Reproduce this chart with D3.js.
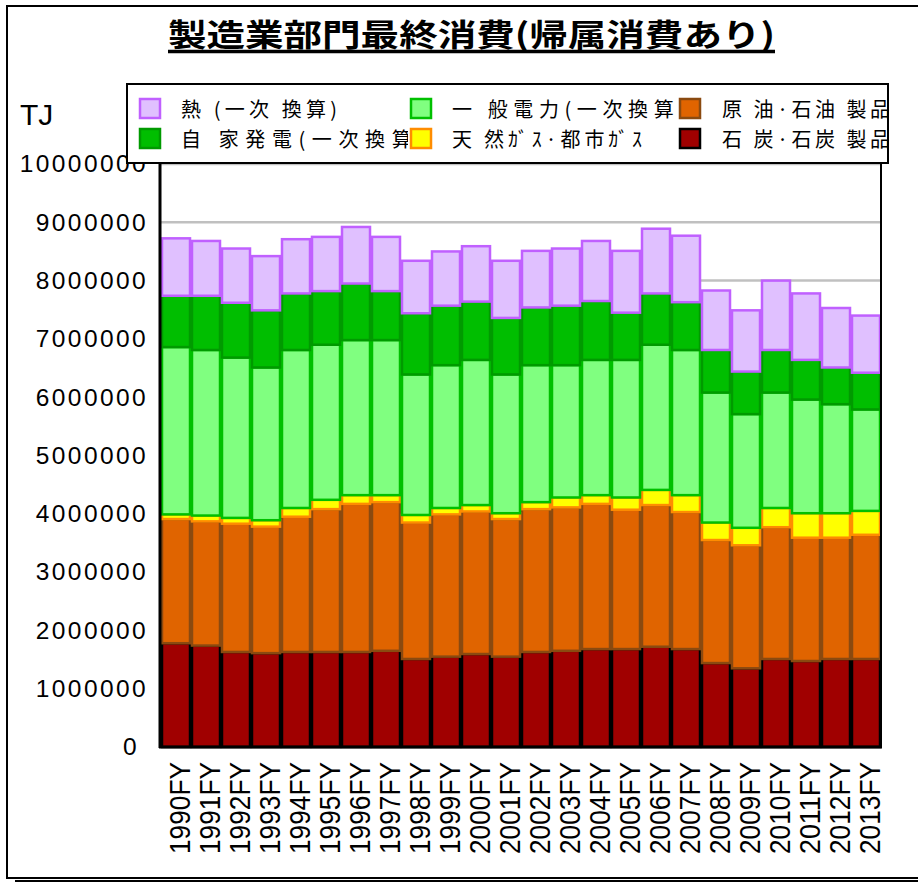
<!DOCTYPE html>
<html>
<head>
<meta charset="utf-8">
<script src="https://d3js.org/d3.v7.min.js"></script>
<style>
  body { margin: 0; background: #fff; }
  svg { display: block; }
</style>
</head>
<body>
<script>
    // 製造業部門最終消費 (TJ)
    var years = ["1990FY","1991FY","1992FY","1993FY","1994FY","1995FY","1996FY","1997FY",
                 "1998FY","1999FY","2000FY","2001FY","2002FY","2003FY","2004FY","2005FY",
                 "2006FY","2007FY","2008FY","2009FY","2010FY","2011FY","2012FY","2013FY"];

    var coal = [1780000,1740000,1630000,1610000,1630000,1630000,1630000,1650000,
                1510000,1550000,1595000,1550000,1630000,1650000,1680000,1680000,
                1720000,1680000,1440000,1350000,1510000,1475000,1510000,1510000];
    var oil  = [2130000,2130000,2200000,2170000,2320000,2450000,2540000,2550000,
                2340000,2440000,2445000,2360000,2450000,2460000,2490000,2390000,
                2430000,2350000,2110000,2110000,2260000,2115000,2080000,2130000];
    var gas  = [80000,100000,100000,110000,150000,160000,150000,120000,
                130000,110000,110000,100000,120000,170000,150000,210000,
                260000,290000,300000,300000,330000,420000,420000,410000];
    var elec = [2870000,2840000,2750000,2620000,2710000,2660000,2660000,2660000,
                2410000,2450000,2490000,2380000,2350000,2270000,2320000,2360000,
                2490000,2490000,2230000,1950000,1980000,1950000,1870000,1740000];
    var selfGen = [880000,930000,940000,980000,970000,920000,970000,840000,
                   1050000,1020000,1000000,970000,990000,1020000,1010000,810000,
                   880000,820000,730000,730000,730000,680000,630000,630000];
    var heat = [985000,940000,930000,930000,930000,930000,970000,930000,
                900000,930000,950000,980000,970000,980000,1030000,1060000,
                1110000,1140000,1020000,1050000,1190000,1140000,1020000,980000];

    var seriesKeys = ["coal","oil","gas","elec","selfGen","heat"];
    var seriesNames = ["石 炭·石炭 製品","原 油·石油 製品","天 然ｶﾞｽ·都市ｶﾞｽ",
                       "一 般電力(一次換算)","自 家発電(一次換算)","熱 (一次 換算)"];
    var fills   = ["#A00000","#E06400","#FFFF00","#80FF80","#00BE00","#E0C0FF"];
    var strokes = ["#000000","#8A4A10","#FF8C00","#00C000","#009A00","#C060FF"];

    var width = 918;
    var height = 883;

    var svg = d3.select("body")
    .append("svg")
    .attr("width", width)
    .attr("height", height);

    // outer frame + shadow line
    svg.append("rect")
    .attr("x", 7).attr("y", 6)
    .attr("width", 930).attr("height", 872)
    .attr("fill", "none").attr("stroke", "#000").attr("stroke-width", 2);
    svg.append("line")
    .attr("x1", 15).attr("x2", 918).attr("y1", 881).attr("y2", 881)
    .attr("stroke", "#000").attr("stroke-width", 2);

    var table = years.map(function(y, i){
        return {year: y, coal: coal[i], oil: oil[i], gas: gas[i], elec: elec[i],
                selfGen: selfGen[i], heat: heat[i]};
    });

    var scaleX = d3.scaleBand()
    .domain(years)
    .range([161, 881])
    .padding(0);

    var scaleY = d3.scaleLinear()
    .domain([0, 10000000])
    .range([747, 164]);

    // grid
    svg.append("g")
    .selectAll("line")
    .data(d3.range(1000000, 10000001, 1000000))
    .enter()
    .append("line")
    .attr("x1", 161).attr("x2", 881)
    .attr("y1", function(d){ return scaleY(d); })
    .attr("y2", function(d){ return scaleY(d); })
    .attr("stroke", "#C0C0C0")
    .attr("stroke-width", 2.5);

    var stacked = d3.stack().keys(seriesKeys)(table);

    svg.append("g")
    .selectAll("g")
    .data(stacked)
    .enter()
    .append("g")
    .attr("fill", function(d, i){ return fills[i]; })
    .attr("stroke", function(d, i){ return strokes[i]; })
    .attr("stroke-width", 2.5)
    .selectAll("rect")
    .data(function(d){ return d; })
    .enter()
    .append("rect")
    .attr("x", function(d){ return scaleX(d.data.year) + 1; })
    .attr("width", scaleX.bandwidth() - 2)
    .attr("y", function(d){ return scaleY(d[1]); })
    .attr("height", function(d){ return scaleY(d[0]) - scaleY(d[1]); });

    // axes
    var yAxis = d3.axisLeft(scaleY)
    .tickValues(d3.range(0, 10000001, 1000000))
    .tickFormat(d3.format("d"))
    .tickSize(0)
    .tickPadding(12);

    var gy = svg.append("g")
    .attr("transform", "translate(160,0)")
    .call(yAxis);
    gy.select(".domain").remove();
    gy.selectAll("text")
    .style("font-family", "'Liberation Sans', Arial, sans-serif")
    .style("font-size", "24.5px")
    .style("letter-spacing", "2.4px")
    .attr("fill", "#000")
    .attr("dx", function(d){ return d === 0 ? -9 : 0; });

    var xAxis = d3.axisBottom(scaleX).tickSize(0);
    var gx = svg.append("g")
    .attr("transform", "translate(0,747)")
    .call(xAxis);
    gx.select(".domain").remove();
    gx.selectAll("text")
    .attr("transform", "rotate(-90)")
    .attr("text-anchor", "end")
    .attr("x", -15)
    .attr("y", 0)
    .attr("dy", 14)
    .attr("textLength", 92)
    .attr("lengthAdjust", "spacingAndGlyphs")
    .style("font-family", "'Liberation Sans', Arial, sans-serif")
    .style("font-size", "29px")
    .attr("fill", "#000");

    svg.append("line")
    .attr("x1", 160).attr("x2", 160).attr("y1", 164).attr("y2", 748)
    .attr("stroke", "#000").attr("stroke-width", 3);
    svg.append("line")
    .attr("x1", 881).attr("x2", 881).attr("y1", 164).attr("y2", 748)
    .attr("stroke", "#000").attr("stroke-width", 2);
    svg.append("line")
    .attr("x1", 159).attr("x2", 882).attr("y1", 747).attr("y2", 747)
    .attr("stroke", "#000").attr("stroke-width", 3);

    // title
    svg.append("text")
    .attr("x", 168)
    .attr("y", 46)
    .attr("textLength", 607)
    .attr("lengthAdjust", "spacingAndGlyphs")
    .text("製造業部門最終消費(帰属消費あり)")
    .style("font-family", "'Noto Sans CJK JP', sans-serif")
    .style("font-weight", "bold")
    .style("font-size", "31px");
    svg.append("line")
    .attr("x1", 168).attr("x2", 775).attr("y1", 51.5).attr("y2", 51.5)
    .attr("stroke", "#000").attr("stroke-width", 3.5);

    svg.append("text")
    .attr("x", 20)
    .attr("y", 125)
    .text("TJ")
    .style("font-family", "'Liberation Sans', Arial, sans-serif")
    .style("font-size", "30px");

    // legend
    var legend = svg.append("g");
    legend.append("rect")
    .attr("x", 127).attr("y", 84)
    .attr("width", 761).attr("height", 79)
    .attr("fill", "#fff").attr("stroke", "#000").attr("stroke-width", 2);

    var colSwatch = [140, 411, 680];
    var colText = [181, 452, 722];
    var colClip = [408, 677, 887];
    var rowSwatch = [99, 129];
    var rowText = [117, 147];

    // legend order: heat, elec, oil / selfGen, gas, coal
    var legendOrder = [5, 3, 1, 4, 2, 0];
    var legendLen = [156, 234, 168, 244, 190, 168];

    colClip.forEach(function(c, i){
        svg.append("clipPath").attr("id", "lc" + i)
        .append("rect").attr("x", 128).attr("y", 85)
        .attr("width", c - 128).attr("height", 77);
    });

    legendOrder.forEach(function(s, k){
        var col = k % 3, row = Math.floor(k / 3);
        legend.append("text")
        .attr("x", colText[col])
        .attr("y", rowText[row])
        .attr("clip-path", "url(#lc" + col + ")")
        .attr("textLength", legendLen[k])
        .attr("lengthAdjust", "spacing")
        .text(seriesNames[s])
        .style("font-family", "'Noto Sans CJK JP', sans-serif")
        .style("font-size", "20px");
        legend.append("rect")
        .attr("x", colSwatch[col])
        .attr("y", rowSwatch[row])
        .attr("width", 20)
        .attr("height", 19)
        .attr("fill", fills[s])
        .attr("stroke", strokes[s])
        .attr("stroke-width", 2.5);
    });
</script>
</body>
</html>
